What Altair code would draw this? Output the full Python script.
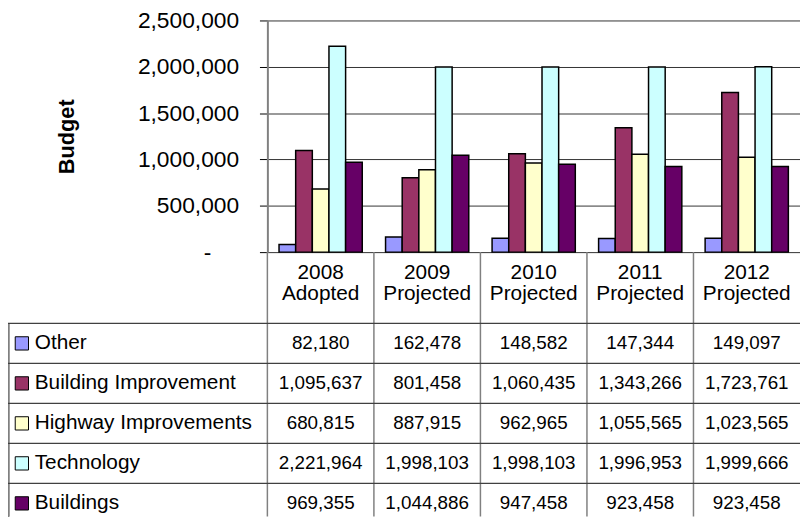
import altair as alt
import pandas as pd

# ---- data ----
years = ["2008", "2009", "2010", "2011", "2012"]
status = ["Adopted", "Projected", "Projected", "Projected", "Projected"]
series = ["Other", "Building Improvement", "Highway Improvements", "Technology", "Buildings"]
colors = ["#9999FF", "#993366", "#FFFFCC", "#CCFFFF", "#660066"]

other = [82180, 162478, 148582, 147344, 149097]
building_improvement = [1095637, 801458, 1060435, 1343266, 1723761]
highway_improvements = [680815, 887915, 962965, 1055565, 1023565]
technology = [2221964, 1998103, 1998103, 1996953, 1999666]
buildings = [969355, 1044886, 947458, 923458, 923458]

values = [other, building_improvement, highway_improvements, technology, buildings]
y_ticks = [0, 500000, 1000000, 1500000, 2000000, 2500000]

categories = [f"{y} {s}" for y, s in zip(years, status)]

rows = []
for s, vals in zip(series, values):
    for c, y, st, v in zip(categories, years, status, vals):
        rows.append({"cat": c, "year": y, "status": st, "series": s,
                     "value": v, "label": f"{v:,}"})
df = pd.DataFrame(rows)
cat_df = pd.DataFrame({"cat": categories, "year": years, "status": status})
ser_df = pd.DataFrame({"series": series})

FONT = "Liberation Sans"
W, H = 538, 234
ROW_RANGE = [306, 508]

xcat = alt.X("cat:N", sort=categories,
             scale=alt.Scale(paddingInner=0, paddingOuter=0), axis=None)
color = alt.Color("series:N", scale=alt.Scale(domain=series, range=colors), legend=None)


def yrow(bp=0.5):
    return alt.Y("series:N", sort=series, bandPosition=bp,
                 scale=alt.Scale(type="band", range=ROW_RANGE, paddingInner=0, paddingOuter=0),
                 axis=None)


bars = alt.Chart(df).mark_bar(stroke="black", strokeWidth=1.5).encode(
    x=xcat,
    xOffset=alt.XOffset("series:N", sort=series,
                        scale=alt.Scale(paddingInner=0, paddingOuter=0.7)),
    y=alt.Y("value:Q",
            scale=alt.Scale(domain=[0, 2500000], nice=False, zero=True),
            axis=alt.Axis(values=y_ticks,
                          labelExpr="datum.value == 0 ? '-' : format(datum.value, ',')",
                          labelFont=FONT, labelFontSize=23, labelColor="black",
                          tickSize=8, tickColor="black", tickWidth=1,
                          labelPadding={"condition": {"test": "datum.value === 0", "value": 49},
                                        "value": 21},
                          domainColor="#808080", domainWidth=2,
                          grid=True, gridColor="#333333", gridWidth=1,
                          title="Budget", titleFont=FONT, titleFontSize=22,
                          titleFontWeight="bold", titleColor="black",
                          titlePadding=60)),
    color=color,
)

# vertical column lines of the table
vlines = alt.Chart(cat_df).mark_rule(color="#808080", strokeWidth=1.5).encode(
    x=alt.X("cat:N", sort=categories, bandPosition=0,
            scale=alt.Scale(paddingInner=0, paddingOuter=0), axis=None),
    y=alt.value(H),
    y2=alt.value(501),
)

left_border = alt.Chart(ser_df).mark_rule(color="#808080", strokeWidth=1.5).encode(
    x=alt.value(-261.5),
    y=alt.value(ROW_RANGE[0]),
    y2=alt.value(501),
)

hlines = alt.Chart(ser_df).mark_rule(color="#404040", strokeWidth=1.2).encode(
    y=yrow(0),
    x=alt.value(-262),
    x2=alt.value(W),
)

header1 = alt.Chart(cat_df).mark_text(font=FONT, fontSize=21, color="black",
                                       baseline="alphabetic").encode(
    x=xcat, y=alt.value(261.5), text="year:N")
header2 = alt.Chart(cat_df).mark_text(font=FONT, fontSize=21, color="black",
                                       baseline="alphabetic").encode(
    x=xcat, y=alt.value(282.5), text="status:N")

cells = alt.Chart(df).mark_text(font=FONT, fontSize=19, color="black",
                                baseline="middle").encode(
    x=xcat, y=yrow(), text="label:N")

swatches = alt.Chart(ser_df).mark_square(size=180, opacity=1, stroke="black",
                                         strokeWidth=1).encode(
    x=alt.value(-248), y=yrow(), color=color)

labels = alt.Chart(ser_df).mark_text(font=FONT, fontSize=21, color="black",
                                     align="left", baseline="middle").encode(
    x=alt.value(-235), y=yrow(), text="series:N")

chart = alt.layer(
    bars, vlines, left_border, hlines, header1, header2, cells, swatches, labels
).resolve_scale(y="independent").properties(
    width=W, height=H,
    autosize=alt.AutoSizeParams(type="none"),
    padding={"left": 262, "top": 10, "right": 0, "bottom": 268},
    background="white",
).configure_view(stroke=None)

chart.save("out.html", embed_options={"renderer": "svg", "actions": False})
